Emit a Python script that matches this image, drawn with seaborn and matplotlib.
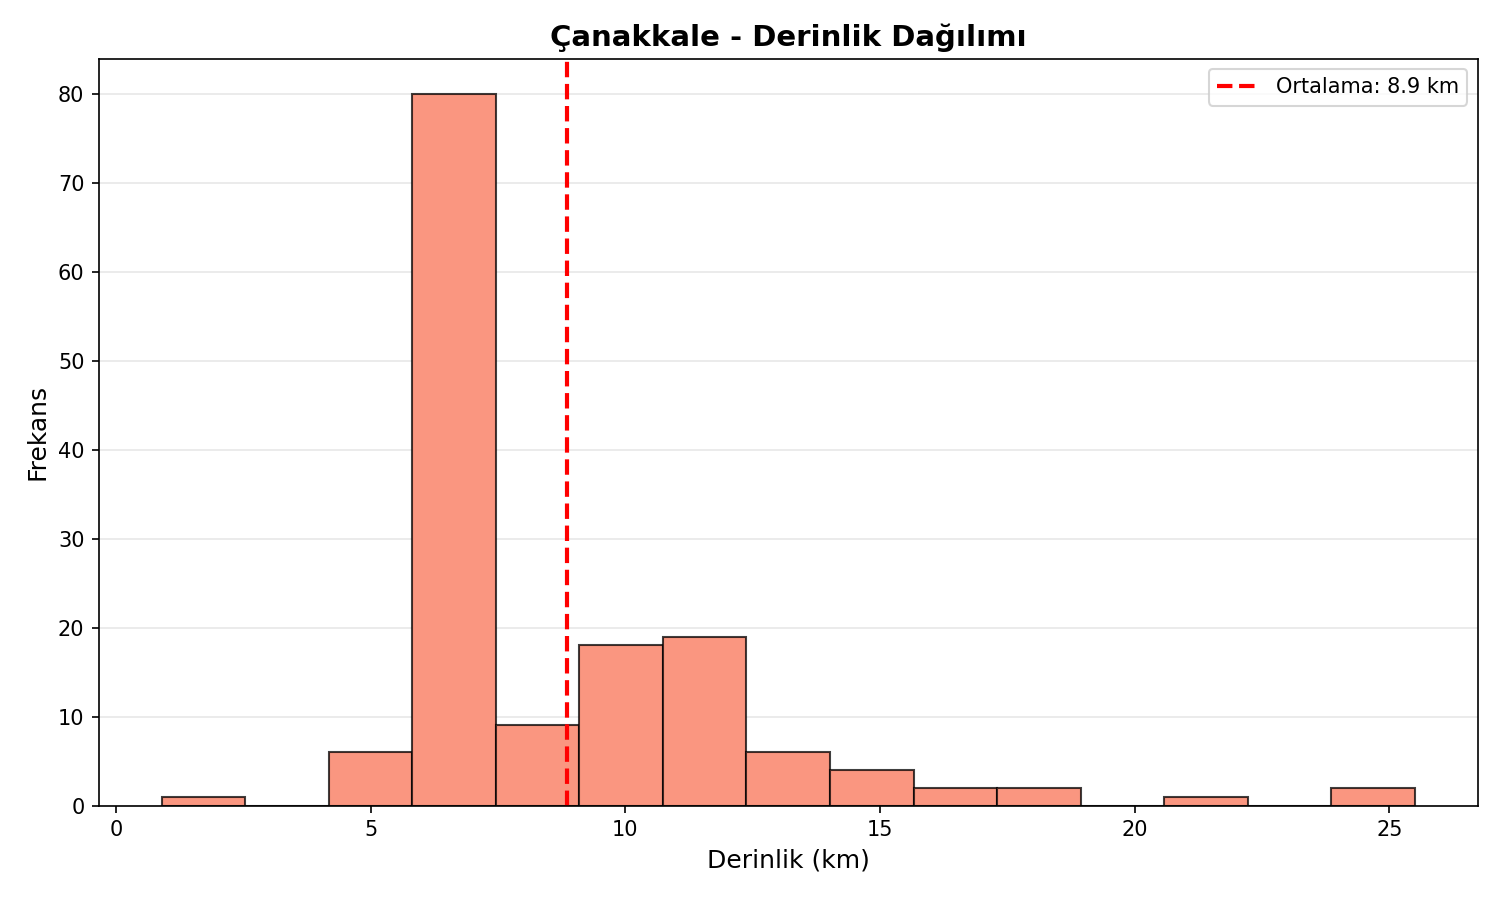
import numpy as np
import seaborn as sns
import matplotlib
matplotlib.use("Agg")
import matplotlib.pyplot as plt

# Histogram data
bin_edges = [0.9, 2.54, 4.18, 5.82, 7.46, 9.1, 10.74, 12.38, 14.02, 15.66, 17.3,
             18.94, 20.58, 22.22, 23.86, 25.5]
counts = [1, 0, 6, 80, 9, 18, 19, 6, 4, 2, 2, 0, 1, 0, 2]
mean_depth = 8.86

centers = [(a + b) / 2 for a, b in zip(bin_edges[:-1], bin_edges[1:])]

fig, ax = plt.subplots(figsize=(10, 6), dpi=150)

sns.histplot(x=centers, weights=counts, bins=bin_edges, color="#FA9680",
             alpha=1.0, edgecolor="black", linewidth=1.0, ax=ax)
for p in ax.patches:
    p.set_edgecolor((0, 0, 0, 0.75))

ax.axvline(mean_depth, color="red", linestyle="--", linewidth=2,
           label=f"Ortalama: {mean_depth:.1f} km")

ax.set_title("Çanakkale - Derinlik Dağılımı", fontsize=14, fontweight="bold")
ax.set_xlabel("Derinlik (km)", fontsize=12)
ax.set_ylabel("Frekans", fontsize=12)
ax.grid(axis="y", alpha=0.3)
ax.set_axisbelow(True)
ax.legend(loc="upper right")

plt.subplots_adjust(left=0.066, right=0.985, top=0.935, bottom=0.105)
fig.savefig("out.png")
